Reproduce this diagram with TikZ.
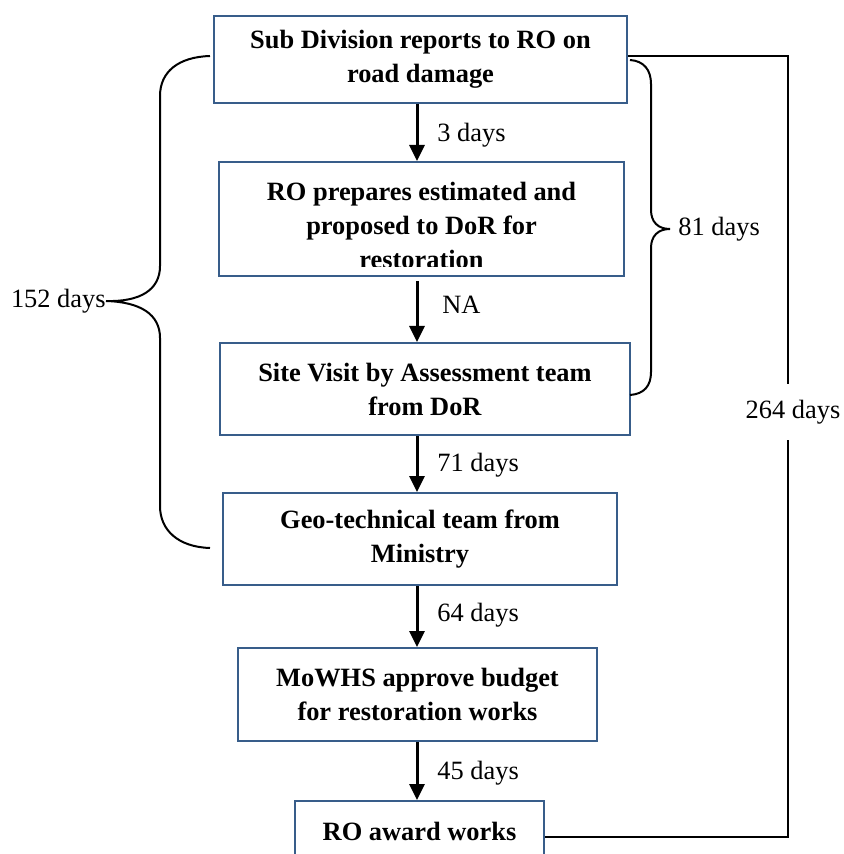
\documentclass[tikz,border=0pt]{standalone}
\usepackage{fontspec}
\setmainfont{Liberation Serif}
\usetikzlibrary{arrows.meta}
\definecolor{boxblue}{RGB}{56,93,138}

\begin{document}
\begin{tikzpicture}[x=0.5pt,y=-0.5pt]

\tikzset{
box/.style={rectangle,draw=boxblue,line width=1pt,fill=white,inner sep=0pt,align=center,font=\bfseries\fontsize{13.2}{17}\selectfont},
days/.style={font=\fontsize{13.2}{17}\selectfont,inner sep=0pt},
flow/.style={-{Triangle[width=7.5pt,length=8pt]},line width=1.5pt},
brace/.style={line width=1pt}
}

\useasboundingbox (0,0) rectangle (843,854);

\node[box,minimum width=206.5pt,minimum height=43.5pt] (sub-division) at (420.5,59.5) {Sub Division reports to RO on\\road damage};
\node[box,minimum width=202.5pt,minimum height=57pt] (ro-estimate) at (421.5,219) {};
\begin{scope}
\clip (220,163) rectangle (623,267);
\node[box,draw=none,fill=none] (ro-estimate-text) at (421.5,225) {RO prepares estimated and\\proposed to DoR for\\restoration};
\end{scope}
\node[box,minimum width=205pt,minimum height=46pt] (site-visit) at (425,389) {Site Visit by Assessment team\\from DoR};
\node[box,minimum width=197pt,minimum height=46pt] (geo-technical) at (420,539) {Geo-technical team from\\Ministry};
\node[box,minimum width=179.5pt,minimum height=46.5pt] (mowhs-budget) at (417.5,694.5) {MoWHS approve budget\\for restoration works};
\node[box,minimum width=124.5pt,minimum height=30pt] (ro-award) at (419.5,831) {RO award works};

\coordinate (flow-line) at (417,0);
\draw[flow] (sub-division.south -| flow-line)--(ro-estimate.north -| flow-line);
\draw[flow] ([yshift=-2pt]ro-estimate.south -| flow-line)--(site-visit.north -| flow-line);
\draw[flow] (site-visit.south -| flow-line)--(geo-technical.north -| flow-line);
\draw[flow] (geo-technical.south -| flow-line)--(mowhs-budget.north -| flow-line);
\draw[flow] (mowhs-budget.south -| flow-line)--(ro-award.north -| flow-line);

\node[days,anchor=west] (three-days) at (437,135) {3 days};
\node[days,anchor=west] (no-days) at (442,305) {NA};
\node[days,anchor=west] (seventyone-days) at (437,465) {71 days};
\node[days,anchor=west] (sixtyfour-days) at (437,615) {64 days};
\node[days,anchor=west] (fortyfive-days) at (437,773) {45 days};

% brace on the left
\node[days,anchor=east] (left-days) at (106,301) {152 days};
\draw[brace] (210,56) .. controls (178,57) and (160,72) .. (160,96) -- (160,266) .. controls (160,290) and (140,302) .. (left-days.east) .. controls (140,302) and (160,314) .. (160,338) -- (160,506) .. controls (160,530) and (178,547) .. (210,548);

% brace on the right
\node[days,anchor=west] (right-days) at (678,229) {81 days};
\draw[brace] (630,60) .. controls (644,61) and (651,70) .. (651,84) -- (651,210) .. controls (651,222) and (658,229) .. (670,229) .. controls (658,229) and (651,236) .. (651,248) -- (651,372) .. controls (651,386) and (644,394) .. (630,395);

% total time
\coordinate (total-line) at (788,0);
\node[days,inner ysep=8pt] (total-days) at (793,412) {264 days};
\draw[brace] ([yshift=1.75pt]sub-division.east) -| (total-line |- total-days.north);
\draw[brace] (total-line |- total-days.south) |- ([yshift=-3pt]ro-award.east);

\end{tikzpicture}
\end{document}
